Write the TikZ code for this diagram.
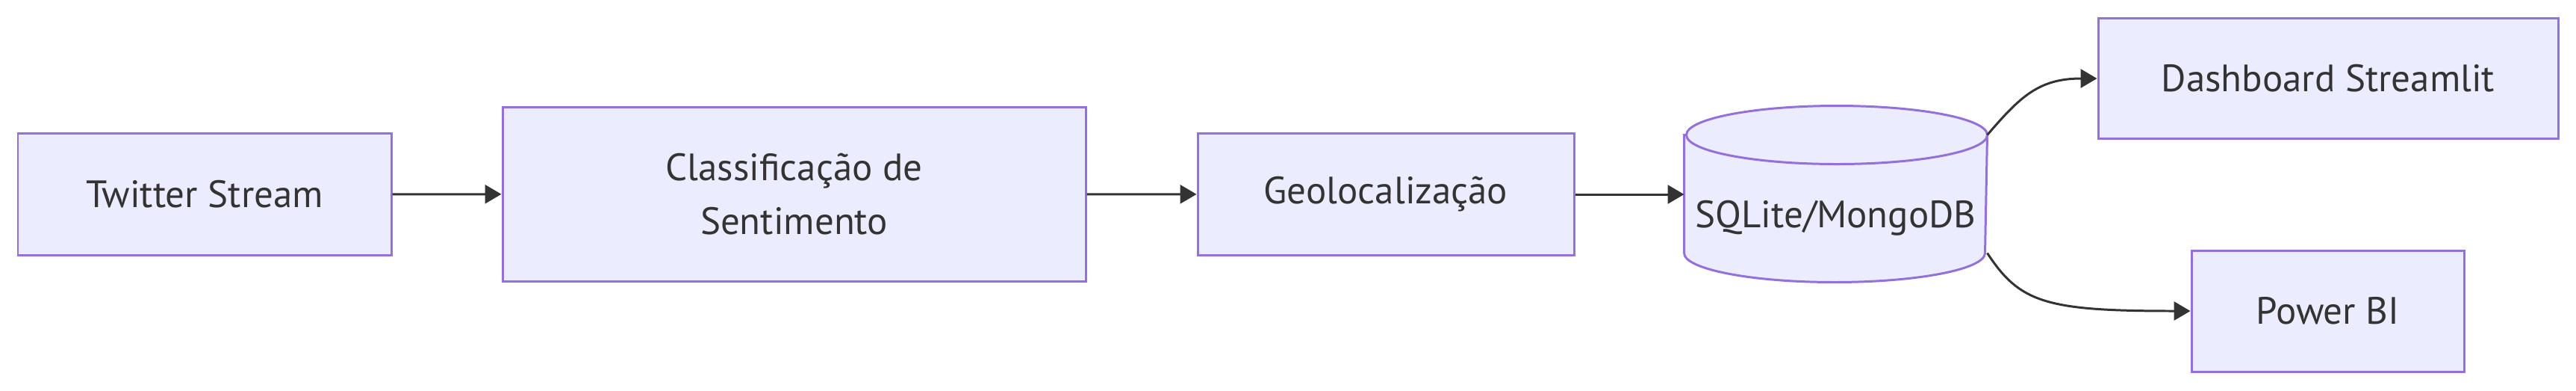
\documentclass[tikz,border=0pt]{standalone}
\usepackage{fontspec}
\setmainfont{PT Sans}
\usetikzlibrary{arrows.meta,calc}
\definecolor{mmfill}{HTML}{ECECFF}
\definecolor{mmline}{HTML}{9370DB}
\definecolor{mmtext}{HTML}{333333}

\begin{document}
\begin{tikzpicture}[line width=0.85pt,>={Triangle[length=0.22cm,width=0.25cm]},
  box/.style={draw=mmline,fill=mmfill,text=mmtext,font=\fontsize{14.5}{20.5}\selectfont,
    align=center,inner sep=0pt},
  txt/.style={text=mmtext,font=\fontsize{14.5}{20.5}\selectfont,inner sep=0pt},
  flow/.style={->,draw=mmtext}]
\useasboundingbox (0,0) rectangle (34.5,-5.22);
% ---------- pipeline ----------
\node[box,minimum width=5.00cm,minimum height=1.63cm] (tw) at (2.74,-2.60) {Twitter Stream};
\node[box,minimum width=7.81cm,minimum height=2.33cm] (cls) at (10.635,-2.595) {Classificação de\\Sentimento};
\node[box,minimum width=5.04cm,minimum height=1.63cm] (geo) at (18.56,-2.60) {Geolocalização};
% banco de dados (cilindro)
\node[minimum width=4.03cm,minimum height=2.33cm,inner sep=0pt] (db) at (24.585,-2.595) {};
\path (db.north west) ++(0,-0.39) coordinate (dbtl)
      (db.north east) ++(0,-0.39) coordinate (dbtr)
      (db.south west) ++(0,0.39) coordinate (dbbl)
      (db.south east) ++(0,0.39) coordinate (dbbr);
\draw[draw=mmline,fill=mmfill] (dbtl) -- (dbbl)
  arc[start angle=180,end angle=360,x radius=2.015cm,y radius=0.39cm] -- (dbtr)
  arc[start angle=0,end angle=180,x radius=2.015cm,y radius=0.39cm] -- cycle;
\draw[draw=mmline] (dbtr) arc[start angle=0,end angle=-180,x radius=2.015cm,y radius=0.39cm];
\node[txt] (dblabel) at ([yshift=-0.32cm]db.center) {SQLite/MongoDB};
% ---------- saidas ----------
\node[box,minimum width=6.16cm,minimum height=1.61cm] (dash) at (31.18,-1.05) {Dashboard Streamlit};
\node[box,minimum width=3.65cm,minimum height=1.62cm] (pbi) at (31.175,-4.16) {Power BI};
% ---------- conexoes ----------
\draw[flow] (tw) -- (cls);
\draw[flow] (cls) -- (geo);
\draw[flow] (geo) -- (geo -| db.west);
\draw[flow] (dbtr) .. controls (27.05,-1.30) and (27.30,-1.05) .. (dash.west);
\draw[flow] (dbbr) .. controls (27.05,-4.05) and (27.40,-4.16) .. (pbi.west);
\end{tikzpicture}
\end{document}
